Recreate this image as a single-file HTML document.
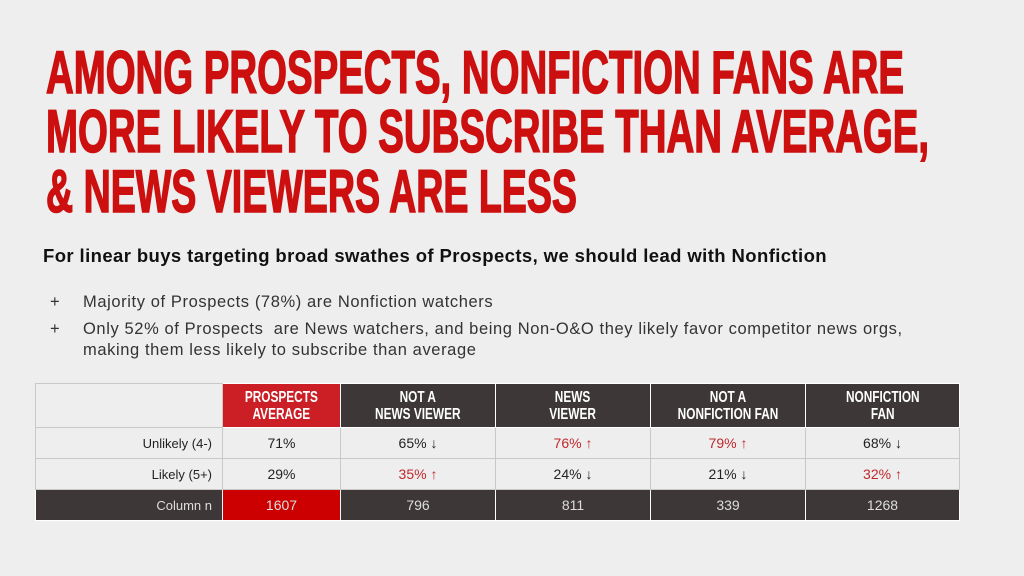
<!DOCTYPE html>
<html><head><meta charset="utf-8"><style>
body{margin:0;width:1024px;height:576px;background:#eeeeee;overflow:hidden;position:relative;font-family:"Liberation Sans",sans-serif}
svg.t{position:absolute;left:0;top:0}
.sub{position:absolute;left:43px;top:245px;font-size:18.5px;letter-spacing:0.4px;font-weight:bold;color:#111;white-space:nowrap}
.b{position:absolute;font-size:16.5px;letter-spacing:0.6px;color:#333;white-space:nowrap}
table{position:absolute;left:35px;top:383px;border-collapse:collapse;table-layout:fixed}
td{border:1px solid #c8c8c8;text-align:center;font-size:14px;color:#222;padding:0;height:30px}
.h td{height:43px;background:#3d3837;color:#fff;font-weight:bold;font-size:16px;line-height:17px;border-color:#fff}
.h td span{display:inline-block;transform:scaleX(0.74);white-space:nowrap}
.h td.e{background:#eeeeee;border-color:#c8c8c8}
.h td.r{background:#cc1f25}
td.l{text-align:right;padding-right:10px;font-size:13px}
.f td{background:#3d3837;color:#ddd;border-color:#fff}
.f td.r{background:#cc0000}
.red{color:#c0282d}
</style></head><body>
<svg class="t" width="1024" height="230">
<g fill="#cc0f0f" stroke="#cc0f0f" stroke-width="1.6" font-family="Liberation Sans, sans-serif" font-weight="bold" font-size="60">
<text x="46" y="93" textLength="858" lengthAdjust="spacingAndGlyphs">AMONG PROSPECTS, NONFICTION FANS ARE</text>
<text x="46" y="152" textLength="883" lengthAdjust="spacingAndGlyphs">MORE LIKELY TO SUBSCRIBE THAN AVERAGE,</text>
<text x="46" y="212" textLength="531" lengthAdjust="spacingAndGlyphs">&amp; NEWS VIEWERS ARE LESS</text>
</g></svg>
<div class="sub">For linear buys targeting broad swathes of Prospects, we should lead with Nonfiction</div>
<div class="b" style="left:50px;top:293px">+</div>
<div class="b" style="left:83px;top:293px">Majority of Prospects (78%) are Nonfiction watchers</div>
<div class="b" style="left:50px;top:320px">+</div>
<div class="b" style="left:83px;top:320px">Only 52% of Prospects&nbsp; are News watchers, and being Non-O&amp;O they likely favor competitor news orgs,</div>
<div class="b" style="left:83px;top:341px">making them less likely to subscribe than average</div>
<table>
<colgroup><col style="width:187px"><col style="width:118px"><col style="width:155px"><col style="width:155px"><col style="width:155px"><col style="width:154px"></colgroup>
<tr class="h"><td class="e"></td><td class="r"><span>PROSPECTS<br>AVERAGE</span></td><td><span>NOT A<br>NEWS VIEWER</span></td><td><span>NEWS<br>VIEWER</span></td><td><span>NOT A<br>NONFICTION FAN</span></td><td><span>NONFICTION<br>FAN</span></td></tr>
<tr><td class="l">Unlikely (4-)</td><td>71%</td><td>65% ↓</td><td class="red">76% ↑</td><td class="red">79% ↑</td><td>68% ↓</td></tr>
<tr><td class="l">Likely (5+)</td><td>29%</td><td class="red">35% ↑</td><td>24% ↓</td><td>21% ↓</td><td class="red">32% ↑</td></tr>
<tr class="f"><td class="l">Column n</td><td class="r">1607</td><td>796</td><td>811</td><td>339</td><td>1268</td></tr>
</table>
</body></html>
